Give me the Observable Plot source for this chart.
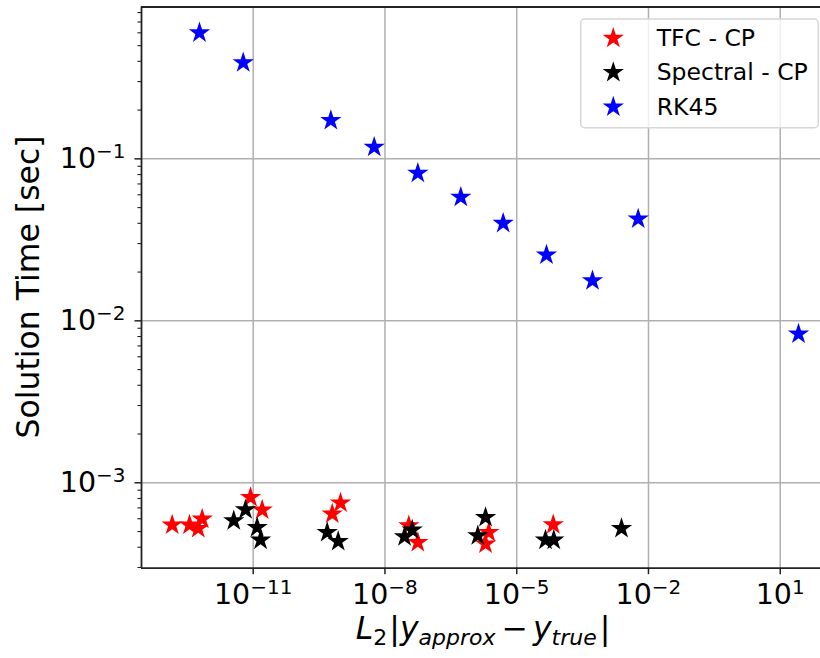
<!DOCTYPE html>
<html><head><meta charset="utf-8">
<script src="https://cdn.jsdelivr.net/npm/d3@7"></script>
<script src="https://cdn.jsdelivr.net/npm/@observablehq/plot@0.6"></script>
<style>html,body{margin:0;padding:0;background:#fff;} #chart{width:820px;height:658px;}</style>
</head><body><div id="chart"></div>
<script>
const seriesNames = ["TFC - CP", "Spectral - CP", "RK45"];
const seriesColors = ["#ff0000", "#000000", "#0000ff"];

const tfcError = [1.43e-13, 3.55e-13, 5.60e-13, 6.90e-13, 8.69e-12, 1.60e-11, 6.30e-10, 9.73e-10, 3.49e-8, 5.60e-8, 2.31e-6, 1.95e-6, 6.78e-5];
const tfcTime  = [5.49e-4, 5.49e-4, 5.23e-4, 5.97e-4, 8.12e-4, 6.79e-4, 6.42e-4, 7.50e-4, 5.43e-4, 4.28e-4, 4.94e-4, 4.19e-4, 5.51e-4];

const specError = [3.61e-12, 6.68e-12, 1.23e-11, 1.47e-11, 4.84e-10, 8.61e-10, 2.79e-8, 4.17e-8, 1.95e-6, 1.30e-6, 4.52e-5, 6.98e-5, 2.43e-3];
const specTime  = [5.83e-4, 6.82e-4, 5.30e-4, 4.43e-4, 4.94e-4, 4.35e-4, 4.65e-4, 5.11e-4, 6.11e-4, 4.71e-4, 4.43e-4, 4.43e-4, 5.23e-4];

const rkError = [5.98e-13, 5.92e-12, 5.85e-10, 5.69e-9, 5.60e-8, 5.33e-7, 4.92e-6, 4.76e-5, 5.31e-4, 5.83e-3, 26.1];
const rkTime  = [0.600, 0.392, 0.1724, 0.1179, 0.0815, 0.0579, 0.0400, 0.0255, 0.0177, 0.0426, 0.0083];

const xTickExponents = [-11, -8, -5, -2, 1];
const yTickExponents = [-3, -2, -1];
const xDomain = [2.86e-14, 82.6];
const yDomain = [2.97e-4, 0.866];

const xLabelParts = ["L", "2", "|", "y", "approx", "−", "y", "true", "|"];
const yLabel = "Solution Time [sec]";

const xTicks = xTickExponents.map(e => Math.pow(10, e));
const yTicks = yTickExponents.map(e => Math.pow(10, e));
const yMinor = [];
for (let e = -4; e <= 0; e++) for (let k = 2; k <= 9; k++) {
  const v = k * Math.pow(10, e);
  if (v >= yDomain[0] && v <= yDomain[1]) yMinor.push(v);
}
const rows = (xs, ys) => xs.map((x, i) => ({err: x, time: ys[i]}));
const fmtExp = d => String(Math.round(Math.log10(d))).replace("-", "\u2212");

const R = 6.7;
const spine = "#222";
const svg = Plot.plot({
  width: 820, height: 658,
  marginLeft: 141, marginRight: 0, marginTop: 6.5, marginBottom: 90.3,
  style: {background: "white", fontFamily: "DejaVu Sans", color: "black", overflow: "hidden"},
  x: {type: "log", domain: xDomain},
  y: {type: "log", domain: yDomain},
  marks: [
    Plot.gridX(xTicks, {stroke: "#b0b0b0", strokeOpacity: 1, strokeWidth: 1.5}),
    Plot.gridY(yTicks, {stroke: "#b0b0b0", strokeOpacity: 1, strokeWidth: 1.5}),
    Plot.dot(rows(tfcError, tfcTime), {x: "err", y: "time", symbol: "star", r: R, fill: seriesColors[0]}),
    Plot.dot(rows(specError, specTime), {x: "err", y: "time", symbol: "star", r: R, fill: seriesColors[1]}),
    Plot.dot(rows(rkError, rkTime), {x: "err", y: "time", symbol: "star", r: R, fill: seriesColors[2]}),
    Plot.axisX(xTicks, {anchor: "bottom", tickSize: 6.5, tickPadding: 9, tickFormat: fmtExp, fontSize: 28.5, label: null, stroke: spine, strokeWidth: 1.5}),
    Plot.axisY(yTicks, {anchor: "left", tickSize: 6.5, tickPadding: 9.5, tickFormat: fmtExp, fontSize: 28.5, label: null, stroke: spine, strokeWidth: 1.5}),
    Plot.axisY(yMinor, {anchor: "left", tickSize: 3.6, tickFormat: () => "", label: null, stroke: spine, strokeWidth: 1.1}),
    Plot.ruleY([yDomain[1]], {stroke: spine, strokeWidth: 1.8}),
    Plot.ruleY([yDomain[0]], {stroke: spine, strokeWidth: 1.8}),
    Plot.ruleX([xDomain[0]], {stroke: spine, strokeWidth: 1.8})
  ]
});
document.getElementById("chart").appendChild(svg);

const s = d3.select(svg);
// superscript tick labels: 10^e
s.selectAll('g[aria-label="x-axis tick label"] text, g[aria-label="y-axis tick label"] text').each(function() {
  const t = d3.select(this);
  const e = t.text();
  if (!e) return;
  t.text("10");
  t.append("tspan").attr("font-size", "20px").attr("dy", "-10px").text(e);
});

// axis labels
const xl = s.append("text")
  .attr("x", 483).attr("y", 639).attr("text-anchor", "middle")
  .attr("font-family", "DejaVu Sans").attr("font-size", "31.5px").attr("fill", "black");
xl.append("tspan").attr("font-style", "italic").text(xLabelParts[0]);
xl.append("tspan").attr("font-size", "22px").attr("dy", 6).text(xLabelParts[1]);
xl.append("tspan").attr("dy", -6).attr("dx", 2).text(xLabelParts[2]);
xl.append("tspan").attr("font-style", "italic").text(xLabelParts[3]);
xl.append("tspan").attr("font-style", "italic").attr("font-size", "22px").attr("dy", 6).text(xLabelParts[4]);
xl.append("tspan").attr("dy", -6).attr("dx", 6).text(xLabelParts[5]);
xl.append("tspan").attr("font-style", "italic").attr("dx", 5).text(xLabelParts[6]);
xl.append("tspan").attr("font-style", "italic").attr("font-size", "22px").attr("dy", 6).text(xLabelParts[7]);
xl.append("tspan").attr("dy", -6).attr("dx", 3).text(xLabelParts[8]);

s.append("text")
  .attr("transform", "translate(39,287) rotate(-90)").attr("text-anchor", "middle")
  .attr("font-family", "DejaVu Sans").attr("font-size", "31.5px").attr("fill", "black")
  .text(yLabel);

// legend
const lg = s.append("g").attr("text-anchor", "start");
lg.append("rect").attr("x", 580.7).attr("y", 19).attr("width", 237.6).attr("height", 108.7)
  .attr("rx", 4).attr("fill", "white").attr("fill-opacity", 0.8)
  .attr("stroke", "#d6d6d6").attr("stroke-width", 1.5);
const star = d3.symbol(d3.symbolStar, Math.PI * R * R)();
seriesNames.forEach((name, i) => {
  const base = 45.7 + i * 34.4;
  lg.append("path").attr("d", star).attr("fill", seriesColors[i])
    .attr("transform", `translate(613.3,${base - 7.6})`);
  lg.append("text").attr("x", 656.7).attr("y", base).attr("text-anchor", "start")
    .attr("font-family", "DejaVu Sans").attr("font-size", "23.5px").attr("fill", "black").text(name);
});
</script>
</body></html>
